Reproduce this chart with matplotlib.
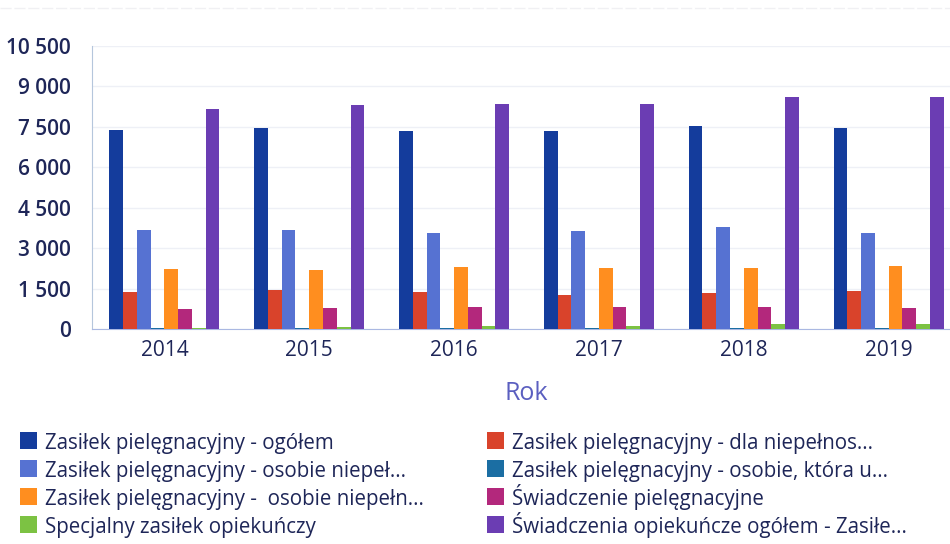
import matplotlib.pyplot as plt
from matplotlib.patches import Rectangle
from matplotlib.lines import Line2D
import numpy as np

plt.rcParams['font.family'] = ['Open Sans', 'DejaVu Sans']

years = ['2014', '2015', '2016', '2017', '2018', '2019']

# liczba świadczeń w poszczególnych latach
zp_ogolem = [7380, 7450, 7350, 7350, 7530, 7450]
zp_dla_niepelnos = [1370, 1450, 1370, 1260, 1340, 1410]
zp_osobie_niepel = [3670, 3670, 3560, 3640, 3780, 3560]
zp_osobie_ktora = [25, 25, 40, 40, 40, 40]
zp_osobie_niepeln = [2230, 2190, 2300, 2260, 2260, 2340]
swiadczenie_piel = [740, 780, 820, 820, 820, 780]
specjalny = [40, 70, 110, 110, 185, 185]
swiadczenia_ogolem = [8160, 8310, 8350, 8350, 8610, 8610]

series = [
    ('Zasiłek pielęgnacyjny - ogółem', zp_ogolem, '#143c9c'),
    ('Zasiłek pielęgnacyjny - dla niepełnos...', zp_dla_niepelnos, '#d9432b'),
    ('Zasiłek pielęgnacyjny - osobie niepeł...', zp_osobie_niepel, '#5672d2'),
    ('Zasiłek pielęgnacyjny - osobie, która u...', zp_osobie_ktora, '#1b6ea3'),
    ('Zasiłek pielęgnacyjny -  osobie niepełn...', zp_osobie_niepeln, '#ff8e1f'),
    ('Świadczenie pielęgnacyjne', swiadczenie_piel, '#b3287c'),
    ('Specjalny zasiłek opiekuńczy', specjalny, '#7cc243'),
    ('Świadczenia opiekuńcze ogółem - Zasiłe...', swiadczenia_ogolem, '#6b3db3'),
]

yticks = [0, 1500, 3000, 4500, 6000, 7500, 9000, 10500]
ytick_labels = ['0', '1 500', '3 000', '4 500', '6 000', '7 500', '9 000', '10 500']

navy = '#1e2658'
W, H = 950, 544

fig = plt.figure(figsize=(W / 100, H / 100), dpi=100)
ax = fig.add_axes([92 / W, 215 / H, 869 / W, 283 / H])

x = np.arange(len(years))
w = 0.76 / len(series)
for i, (name, vals, col) in enumerate(series):
    ax.bar(x - 0.38 + w * (i + 0.5), vals, width=w, color=col, linewidth=0, zorder=3)

ax.set_xlim(-0.5, 5.5)
ax.set_ylim(0, 10500)
ax.set_yticks(yticks)
ax.set_yticklabels(ytick_labels)
ax.set_xticks(x)
ax.set_xticklabels(years)
ax.tick_params(axis='y', length=0, pad=15, labelsize=15, labelcolor=navy)
ax.tick_params(axis='x', length=0, pad=8, labelsize=15, labelcolor=navy)
for lab in ax.get_yticklabels():
    lab.set_fontweight('semibold')
ax.grid(axis='y', color='#eef0f6', linewidth=1, zorder=0)
for s in ['top', 'right']:
    ax.spines[s].set_visible(False)
ax.spines['left'].set_color('#b5c6dc')
ax.spines['bottom'].set_color('#aab8e2')
ax.set_xlabel('Rok', fontsize=18, color='#5b5fc0', labelpad=14)

# faint rule at the very top
fig.add_artist(Line2D([0, 1], [536 / H, 536 / H], color='#f0f0f3',
                      linewidth=1, linestyle='--', dashes=(8, 2)))

# legend: two columns, entries filled row by row, fixed row pitch
col_x = [20, 487]
for i, (name, vals, col) in enumerate(series):
    cx = col_x[i % 2]
    base = 449 + 28 * (i // 2)
    fig.add_artist(Rectangle((cx / W, 1 - base / H), 17 / W, 17 / H,
                             facecolor=col, edgecolor='none'))
    fig.text((cx + 25) / W, 1 - base / H, name, fontsize=14.8, color=navy,
             ha='left', va='baseline')

fig.savefig('out.png', dpi=100)
